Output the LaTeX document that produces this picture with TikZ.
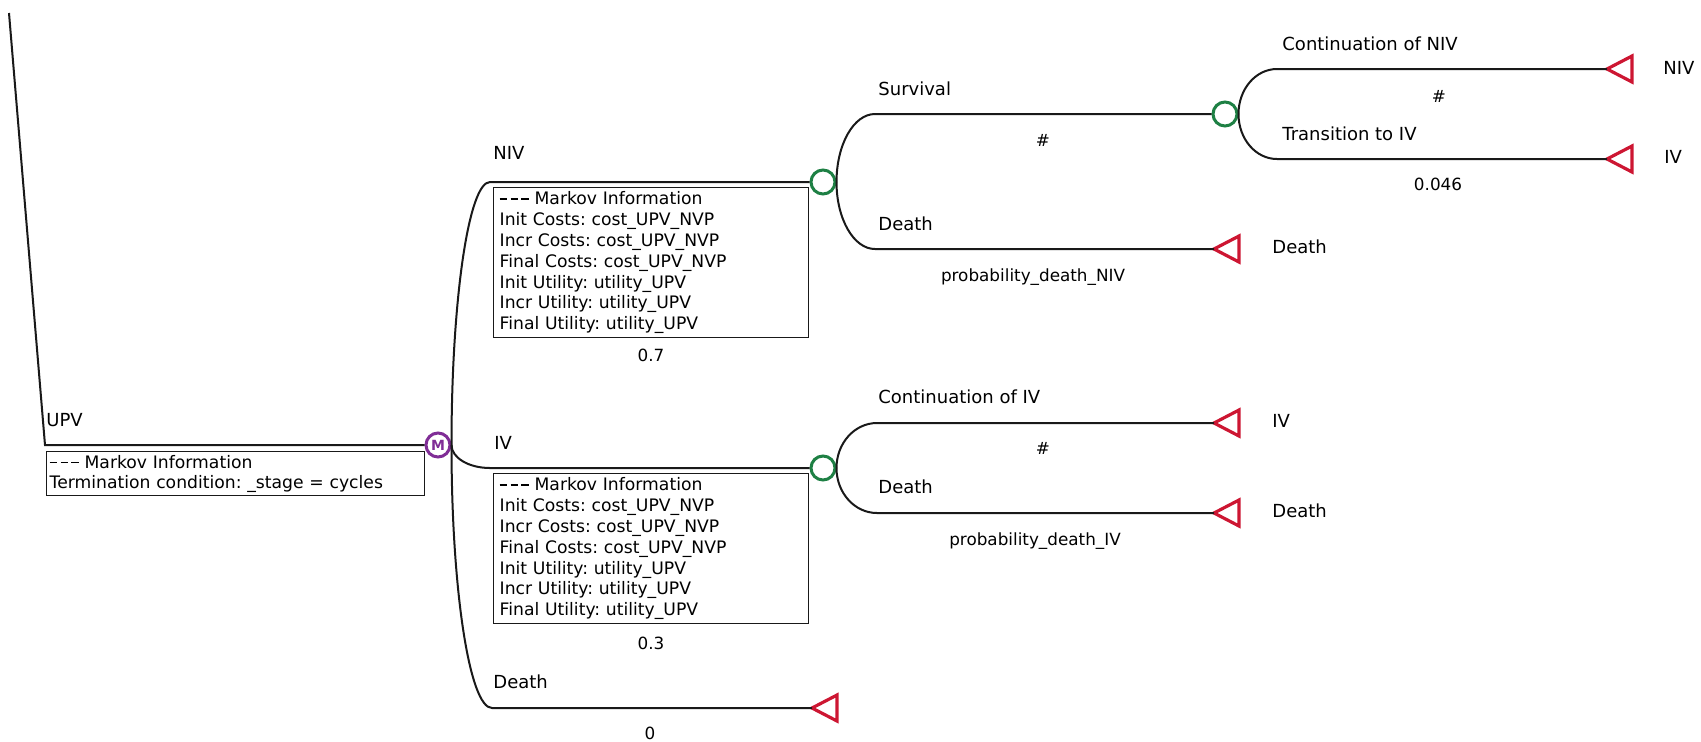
\documentclass[tikz,border=0pt]{standalone}
\usepackage{fontspec}
\setmainfont{DejaVu Sans}[Ligatures=TeXOff]
\usetikzlibrary{calc}

\definecolor{chancegreen}{RGB}{30,128,68}
\definecolor{termred}{RGB}{205,22,50}
\definecolor{markovpurple}{RGB}{128,45,150}
\definecolor{branchink}{RGB}{25,25,25}

% heading line of a Markov information box
\newcommand{\infodash}{\rule[2.5pt]{3.8pt}{0.75pt}}
\newcommand{\infohead}{\infodash\kern1.6pt\infodash\kern1.6pt\infodash\ Markov Information}

\tikzset{
  branch/.style={draw=branchink, line width=1pt},
  chancenode/.style={circle, draw=chancegreen, line width=1.5pt, minimum size=12pt, inner sep=0pt, fill=white},
  markovnode/.style={circle, draw=markovpurple, line width=1.5pt, minimum size=12pt, inner sep=0pt, fill=white,
    text=markovpurple, font=\fontsize{7}{7}\selectfont\bfseries},
  branchlabel/.style={anchor=base west, inner sep=0pt, font=\fontsize{9}{11}\selectfont},
  problabel/.style={anchor=base, inner sep=0pt, font=\fontsize{8.4}{10}\selectfont},
  infobox/.style={draw=branchink, line width=0.7pt, anchor=north west, align=left,
    inner ysep=0pt, font=\fontsize{8.6}{10.4}\selectfont},
  terminaltri/.pic={\draw[termred, line width=1.6pt] (0,0) -- (25,-13) -- (25,13) -- cycle;}
}

\begin{document}
\frenchspacing
\begin{tikzpicture}[x=0.5pt,y=-0.5pt]
\useasboundingbox (0,0) rectangle (1701,741);

% Markov and chance nodes
\node[markovnode] (M) at (438,445) {M};
\node[chancenode] (cNIV) at (823,182) {};
\node[chancenode] (cSurv) at (1225,114) {};
\node[chancenode] (cIV) at (823,468) {};

% terminal nodes (tip of each triangle)
\coordinate (tCN) at (1607,69);
\coordinate (tTI) at (1607,159);
\coordinate (tDN) at (1214,249);
\coordinate (tCI) at (1214,423);
\coordinate (tDI) at (1214,513);
\coordinate (tD0) at (812,708);
\foreach \t in {tCN,tTI,tDN,tCI,tDI,tD0} { \pic at (\t) {terminaltri}; }

% where each branch turns horizontal
\coordinate (bNIV) at (490,182);
\coordinate (bIV) at (490,468);
\coordinate (bD0) at (492,708);
\coordinate (bSurv) at (875,114);
\coordinate (bDN) at (875,249);
\coordinate (bCN) at (1277,69);
\coordinate (bTI) at (1277,159);
\coordinate (bCI) at (877,423);
\coordinate (bDI) at (877,513);

% incoming branch of the Markov node
\coordinate (root) at (9,13);
\coordinate (rootbend) at (45,445);
\draw[branch] (root) -- (rootbend) -- (M.west);

% branches of the Markov node
\draw[branch] (M.east) .. controls ($(M.east)+(0,-145.3)$) and ($(bNIV)+(-21.3,0)$) .. (bNIV) -- (cNIV.west);
\draw[branch] (M.east) .. controls ($(M.east)+(0,12.7)$) and ($(bIV)+(-21.3,0)$) .. (bIV) -- (cIV.west);
\draw[branch] (M.east) .. controls ($(M.east)+(0,145.3)$) and ($(bD0)+(-22.4,0)$) .. (bD0) -- (tD0);

% branches of the NIV chance node
\draw[branch] (cNIV.east) .. controls ($(cNIV.east)+(0,-37.6)$) and ($(bSurv)+(-21.3,0)$) .. (bSurv) -- (cSurv.west);
\draw[branch] (cNIV.east) .. controls ($(cNIV.east)+(0,37)$) and ($(bDN)+(-21.3,0)$) .. (bDN) -- (tDN);

% branches of the Survival chance node
\draw[branch] (cSurv.east) .. controls ($(cSurv.east)+(0,-24.9)$) and ($(bCN)+(-21.3,0)$) .. (bCN) -- (tCN);
\draw[branch] (cSurv.east) .. controls ($(cSurv.east)+(0,24.9)$) and ($(bTI)+(-21.3,0)$) .. (bTI) -- (tTI);

% branches of the IV chance node
\draw[branch] (cIV.east) .. controls ($(cIV.east)+(0,-24.9)$) and ($(bCI)+(-22.4,0)$) .. (bCI) -- (tCI);
\draw[branch] (cIV.east) .. controls ($(cIV.east)+(0,24.9)$) and ($(bDI)+(-22.4,0)$) .. (bDI) -- (tDI);

% Markov information boxes
\node[infobox, inner xsep=1.5pt, text width=186pt, minimum height=22pt, font=\fontsize{8.6}{10}\selectfont] (infoUPV) at (46,451)
  {\infohead\\ Termination condition: \_stage = cycles};
\node[infobox, inner xsep=3pt, text width=151.5pt, minimum height=75pt] (infoNIV) at (493,187)
  {\infohead\\ Init Costs: cost\_UPV\_NVP\\ Incr Costs: cost\_UPV\_NVP\\ Final Costs: cost\_UPV\_NVP\\
   Init Utility: utility\_UPV\\ Incr Utility: utility\_UPV\\ Final Utility: utility\_UPV};
\node[infobox, inner xsep=3pt, text width=151.5pt, minimum height=75pt] (infoIV) at (493,473)
  {\infohead\\ Init Costs: cost\_UPV\_NVP\\ Incr Costs: cost\_UPV\_NVP\\ Final Costs: cost\_UPV\_NVP\\
   Init Utility: utility\_UPV\\ Incr Utility: utility\_UPV\\ Final Utility: utility\_UPV};

% branch names
\node[branchlabel] (lUPV) at (46,426) {UPV};
\node[branchlabel] (lNIV) at (493,159) {NIV};
\node[branchlabel] (lIV) at (494,449) {IV};
\node[branchlabel] (lD0) at (493,688) {Death};
\node[branchlabel] (lSurv) at (878,95) {Survival};
\node[branchlabel] (lDN) at (878,230) {Death};
\node[branchlabel] (lCN) at (1282,50) {Continuation of NIV};
\node[branchlabel] (lTI) at (1282,140) {Transition to IV};
\node[branchlabel] (lCI) at (878,403) {Continuation of IV};
\node[branchlabel] (lDI) at (878,493) {Death};

% terminal outcomes
\node[branchlabel] (oCN) at (1663,74) {NIV};
\node[branchlabel] (oTI) at (1664,163) {IV};
\node[branchlabel] (oDN) at (1272,253) {Death};
\node[branchlabel] (oCI) at (1272,427) {IV};
\node[branchlabel] (oDI) at (1272,517) {Death};

% probabilities
\node[problabel] (pSurv) at (1043,146) {\#};
\node[problabel] (pDN) at (1033,281) {probability\_death\_NIV};
\node[problabel] (pCN) at (1439,102) {\#};
\node[problabel] (pTI) at (1438,190) {0.046};
\node[problabel] (pNIV) at (651,361) {0.7};
\node[problabel] (pCI) at (1043,454) {\#};
\node[problabel] (pDI) at (1035,545) {probability\_death\_IV};
\node[problabel] (pIV) at (651,649) {0.3};
\node[problabel] (pD0) at (650,739) {0};
\end{tikzpicture}
\end{document}
